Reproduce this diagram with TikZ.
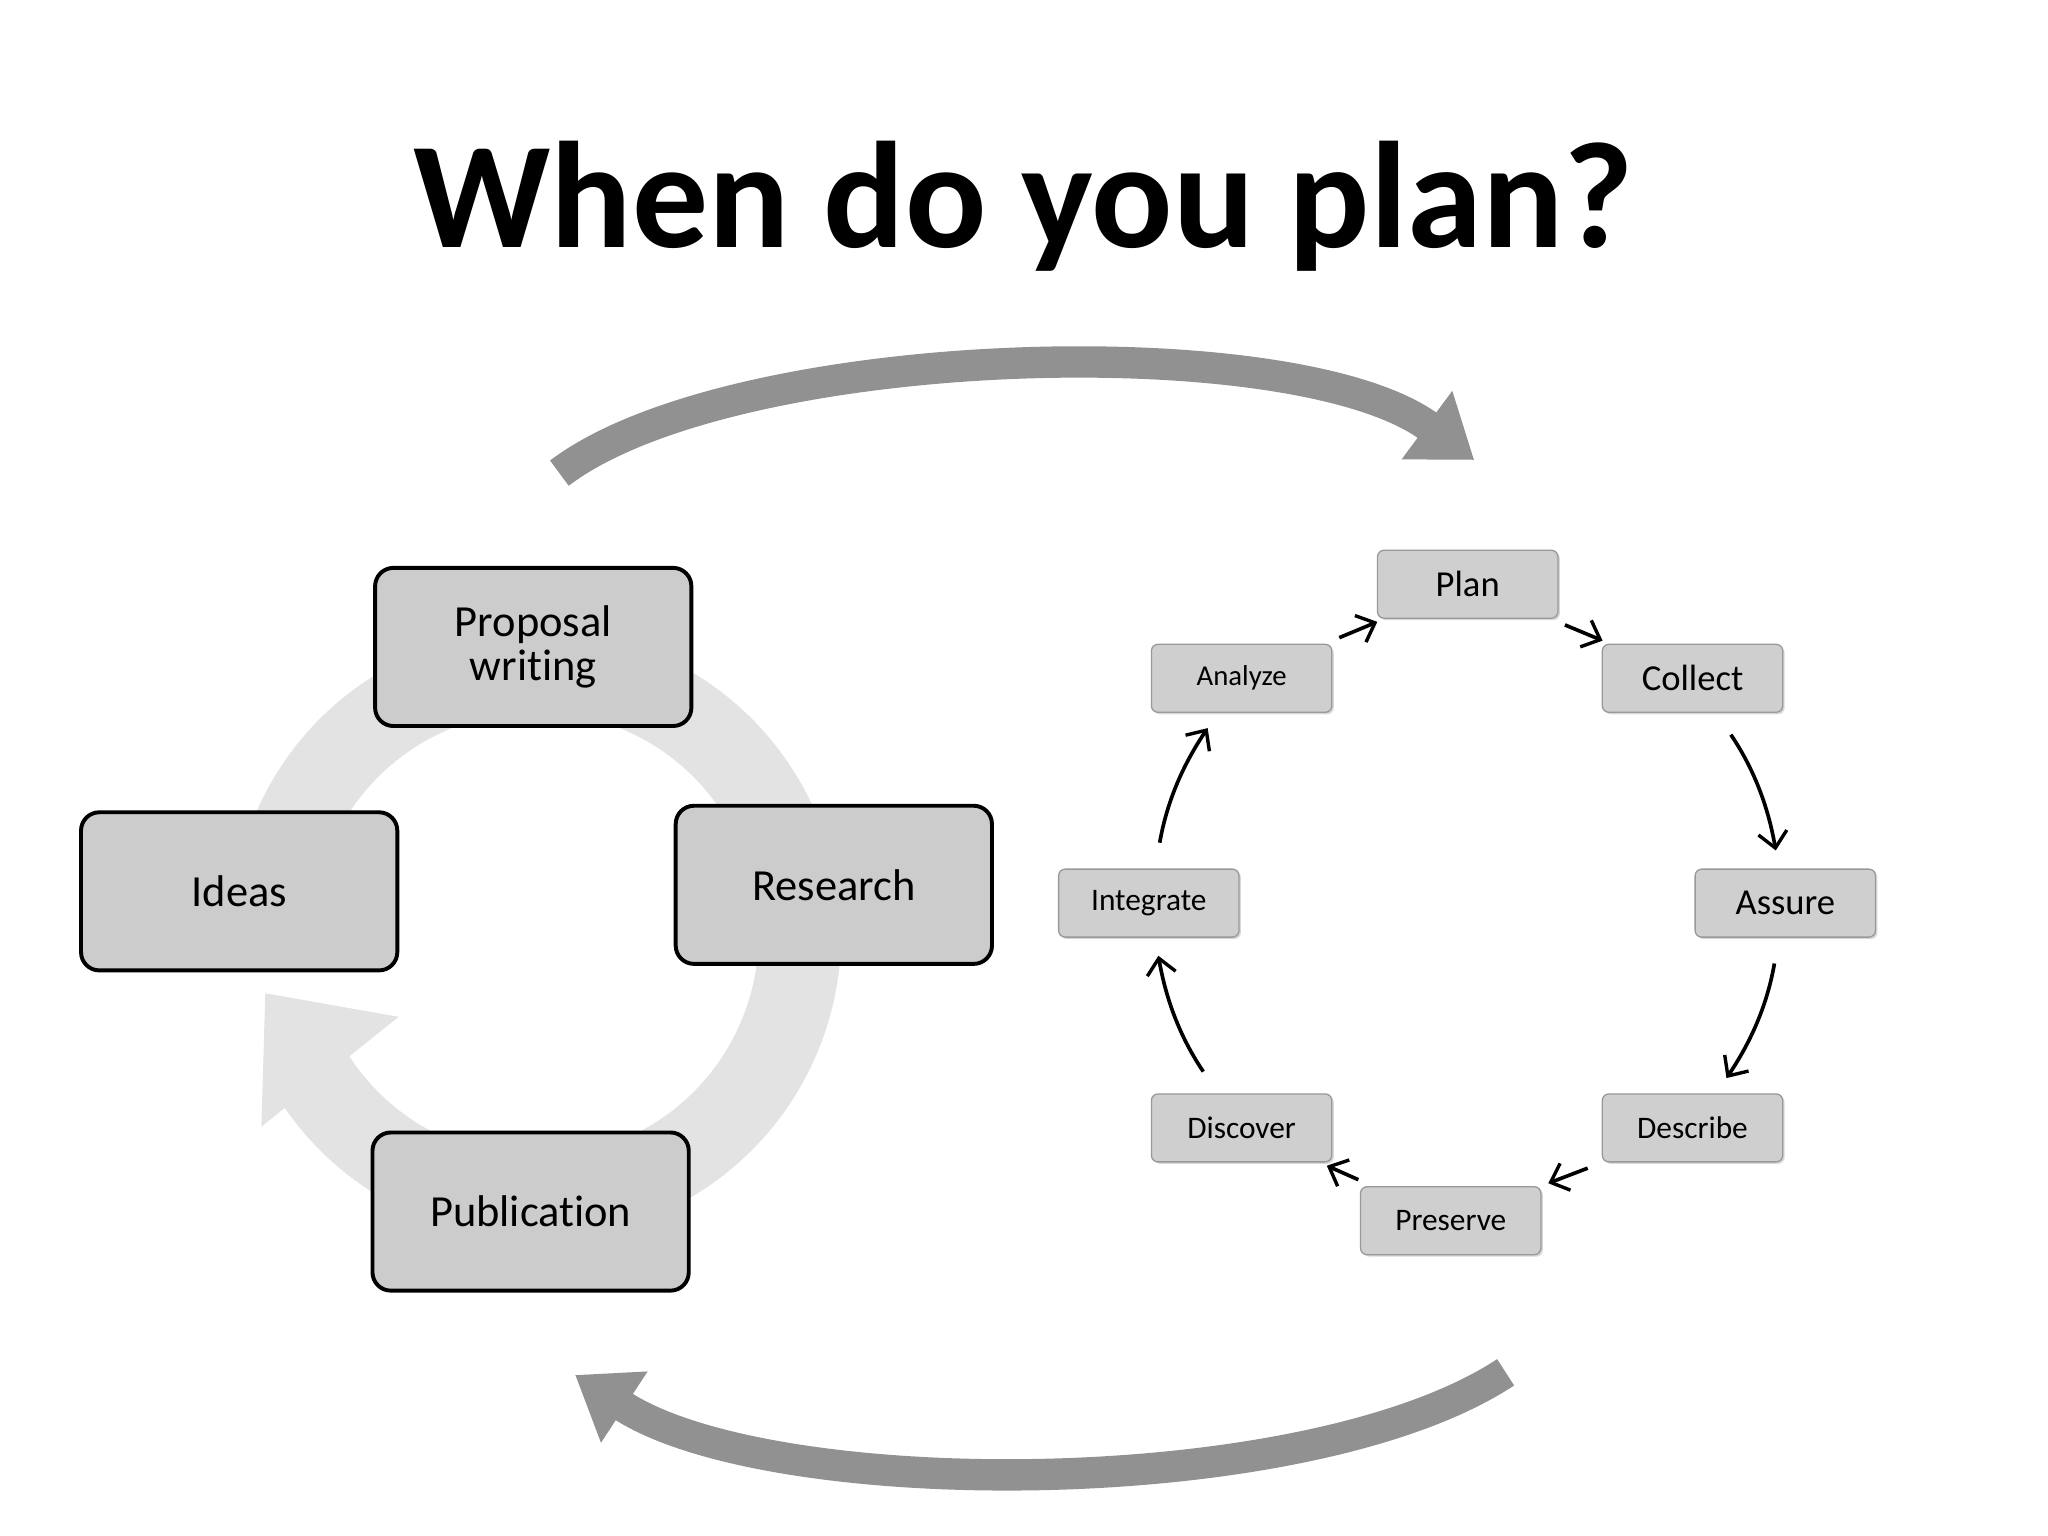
\documentclass[tikz,border=0pt]{standalone}
\usepackage{fontspec}
\setmainfont{Carlito}[RawFeature=-liga]
\usetikzlibrary{arrows.meta,shadows}
\tikzset{
 bigbox/.style={draw=black,line width=3pt,rounded corners=14pt,fill=gray!40,minimum width=242pt,minimum height=121pt,align=center,font=\fontsize{34}{33}\selectfont},
 smallbox/.style={draw=gray!80,line width=1pt,rounded corners=5pt,fill=gray!38,minimum width=138pt,minimum height=52pt,font=\fontsize{24}{26}\selectfont,drop shadow={shadow xshift=1.5pt,shadow yshift=-1.5pt,opacity=0.3}},
 cyc/.style={-{Straight Barb[length=12pt,width=22pt,line width=2.6pt]},line width=2.8pt,shorten <=12pt,shorten >=6pt},
 bigarrow/.style={color=black!43,line width=24pt,-{Triangle[length=45pt,width=62pt]}}
}
\begin{document}
\begin{tikzpicture}[x=1pt,y=-1pt]
\useasboundingbox[fill=white] (0,0) rectangle (1567,1175);
\node[font=\bfseries\fontsize{116}{116}\selectfont] (title) at (783,158) {When do you plan?};
% ring
\draw[gray!22,line width=63pt] (410,715) ++(200:202) arc[start angle=200,end angle=508,radius=202];
\fill[gray!22] (203,760) -- (305,778) -- (200,862) -- cycle;
\node[bigbox] (prop) at (408,495) {Proposal\\writing};
\node[bigbox] (ideas) at (183,682) {Ideas};
\node[bigbox] (res) at (638,677) {Research};
\node[bigbox] (pub) at (406,927) {Publication};
% right cycle
\node[smallbox,font=\fontsize{28}{30}\selectfont] (plan) at (1123,447) {Plan};
\node[smallbox,font=\fontsize{28}{30}\selectfont] (collect) at (1295,519) {Collect};
\node[smallbox,font=\fontsize{28}{30}\selectfont] (assure) at (1366,691) {Assure};
\node[smallbox] (describe) at (1295,863) {Describe};
\node[smallbox] (preserve) at (1110,934) {Preserve};
\node[smallbox] (discover) at (950,863) {Discover};
\node[smallbox] (integrate) at (879,691) {Integrate};
\node[smallbox,font=\fontsize{22}{24}\selectfont] (analyze) at (950,519) {Analyze};
\draw[cyc] (plan) -- (collect);
\draw[cyc,shorten <=20pt,shorten >=14pt] (collect) to[bend left=12] (assure);
\draw[cyc,shorten <=20pt,shorten >=14pt] (assure) to[bend left=12] (describe);
\draw[cyc] (describe) -- (preserve);
\draw[cyc] (preserve) -- (discover);
\draw[cyc,shorten <=20pt,shorten >=14pt] (discover) to[bend left=12] (integrate);
\draw[cyc,shorten <=20pt,shorten >=14pt] (integrate) to[bend left=12] (analyze);
\draw[cyc] (analyze) -- (plan);
% big arrows
\coordinate (a1) at (428,362);
\coordinate (a2) at (1128,352);
\coordinate (b1) at (1152,1050);
\coordinate (b2) at (440,1052);
\draw[bigarrow] (a1) .. controls (560,262) and (990,250) .. (a2);
\draw[bigarrow] (b1) .. controls (1000,1150) and (590,1150) .. (b2);
\end{tikzpicture}
\end{document}
